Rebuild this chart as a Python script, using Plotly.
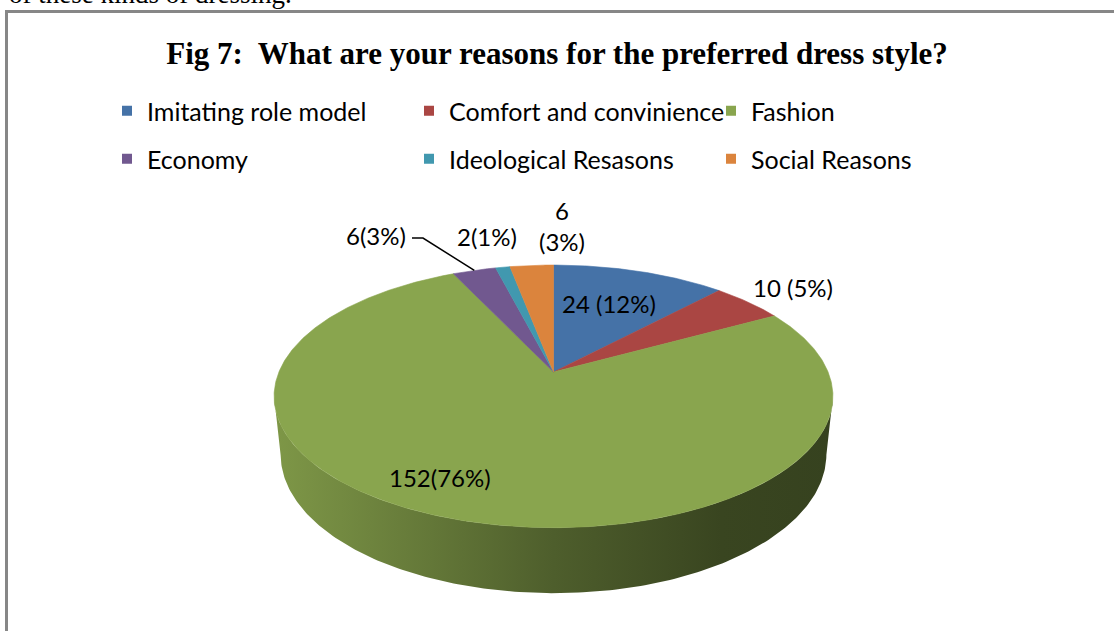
import numpy as np
import plotly.graph_objects as go

# ---------------- data ----------------
categories = ["Imitating role model", "Comfort and convinience", "Fashion",
              "Economy", "Ideological Resasons", "Social Reasons"]
counts = [24, 10, 152, 6, 2, 6]
label_texts = ["24 (12%)", "10 (5%)", "152(76%)", "6(3%)", "2(1%)", "6<br>(3%)"]
title_text = "<b>Fig 7:&nbsp; What are your reasons for the preferred dress style?</b>"

# ---------------- styles / layout ----------------
colors = ["#4572A7", "#AA4643", "#89A54E", "#71588F", "#4198AF", "#DB843D"]
label_pos = [(609, 303), (793, 287), (440, 477), (376, 235), (487, 236), (562, 226)]
leader_start = (412, 238)
W, H = 1114, 631
CX, CY = 553.5, 372.0
F, D, ELEV = 1312.5, 4.78, np.radians(27.5)
DEPTH = 0.24
LABEL_FONT = dict(family="Lato", size=24, color="#000000")
side_shade = [(0.0, 0.92), (0.12, 0.84), (0.5, 0.57), (0.8, 0.42), (1.0, 0.40)]


def proj(x, y, z=0.0):
    c, s = np.cos(ELEV), np.sin(ELEV)
    yv = z * c + y * s
    zv = y * c - z * s
    den = D + zv
    return CX + F * x / den, CY - F * yv / den


def hex_rgb(h):
    h = h.lstrip("#")
    return tuple(int(h[i:i + 2], 16) for i in (0, 2, 4))


def shade(h, k):
    r, g, b = hex_rgb(h)
    return "rgb(%d,%d,%d)" % (r * k, g * k, b * k)


total = float(sum(counts))
cum = np.concatenate([[0.0], np.cumsum(counts) / total])
ang = 2 * np.pi * cum

fig = go.Figure()

# ---- side wall (front, visible part) ----
c = np.cos(ELEV)
ts = np.arccos(-c / D)
te = 2 * np.pi - ts
sx0, _ = proj(np.sin(ts), np.cos(ts))
sx1, _ = proj(np.sin(te), np.cos(te))
xmin, xmax = min(sx0, sx1), max(sx0, sx1)
for i in range(len(counts)):
    a0, a1 = max(ang[i], ts), min(ang[i + 1], te)
    if a1 <= a0:
        continue
    t = np.linspace(a0, a1, 200)
    xt, yt = proj(np.sin(t), np.cos(t), 0.0)
    xb, yb = proj(np.sin(t[::-1]), np.cos(t[::-1]), -DEPTH)
    xs = np.concatenate([xt, xb, xt[:1]])
    ys = np.concatenate([yt, yb, yt[:1]])
    cs = [[p, shade(colors[i], k)] for p, k in side_shade]
    fig.add_trace(go.Scatter(
        x=xs, y=ys, mode="lines", fill="toself",
        line=dict(width=0, color=shade(colors[i], 0.5)),
        fillgradient=dict(type="horizontal", colorscale=cs, start=xmin, stop=xmax),
        hoverinfo="skip", showlegend=False))

# ---- top face slices ----
for i in range(len(counts)):
    n = max(8, int((ang[i + 1] - ang[i]) * 120))
    t = np.linspace(ang[i], ang[i + 1], n)
    xr, yr = proj(np.sin(t), np.cos(t))
    ax, ay = proj(0.0, 0.0)
    xs = np.concatenate([[ax], xr, [ax]])
    ys = np.concatenate([[ay], yr, [ay]])
    fig.add_trace(go.Scatter(
        x=xs, y=ys, mode="lines", fill="toself", fillcolor=colors[i],
        line=dict(width=0.6, color=colors[i]),
        hoverinfo="text", text=f"{categories[i]}: {counts[i]}", showlegend=False))

# ---- leader line for Economy ----
mid = 0.5 * (ang[3] + ang[4])
ex, ey = proj(np.sin(mid), np.cos(mid))
fig.add_trace(go.Scatter(
    x=[leader_start[0], leader_start[0] + 11, ex],
    y=[leader_start[1], leader_start[1], ey],
    mode="lines", line=dict(color="#000000", width=1.5),
    hoverinfo="skip", showlegend=False))

# ---- data labels ----
for txt, (lx, ly) in zip(label_texts, label_pos):
    fig.add_annotation(x=lx, y=ly, text=txt, showarrow=False,
                       font=LABEL_FONT, xanchor="center", yanchor="middle")

# ---- legend entries (two rows) ----
for i, cat in enumerate(categories):
    fig.add_trace(go.Scatter(
        x=[None], y=[None], mode="markers", name=cat,
        marker=dict(symbol="square", size=10, color=colors[i]),
        legend="legend" if i < 3 else "legend2"))

leg_common = dict(orientation="h", xanchor="left", yanchor="middle",
                  entrywidth=257, entrywidthmode="pixels",
                  font=dict(family="Lato", size=25, color="#000000"),
                  bgcolor="rgba(0,0,0,0)", traceorder="normal")

fig.add_annotation(x=7, y=11, text="of these kinds of dressing.", showarrow=False,
                   xanchor="left", yanchor="bottom",
                   font=dict(family="Liberation Serif", size=27, color="#000000"))

fig.update_layout(
    width=W, height=H, autosize=False,
    margin=dict(l=0, r=0, t=0, b=0),
    paper_bgcolor="#ffffff", plot_bgcolor="#ffffff",
    xaxis=dict(range=[0, W], visible=False, fixedrange=True),
    yaxis=dict(range=[H, 0], visible=False, fixedrange=True),
    title=dict(text=title_text, x=0.5, xanchor="center", y=1 - 53 / H, yanchor="middle",
               yref="paper",
               font=dict(family="Liberation Serif", size=31, color="#000000")),
    legend=dict(x=107 / W, y=1 - 111 / H, **leg_common),
    legend2=dict(x=107 / W, y=1 - 159 / H, **leg_common),
    shapes=[dict(type="rect", xref="x", yref="y", x0=6.5, y0=11.5, x1=W + 20, y1=H + 20,
                 line=dict(color="#878787", width=3), fillcolor="rgba(0,0,0,0)", layer="below")],
    showlegend=True,
)

fig.write_html("out.html")
